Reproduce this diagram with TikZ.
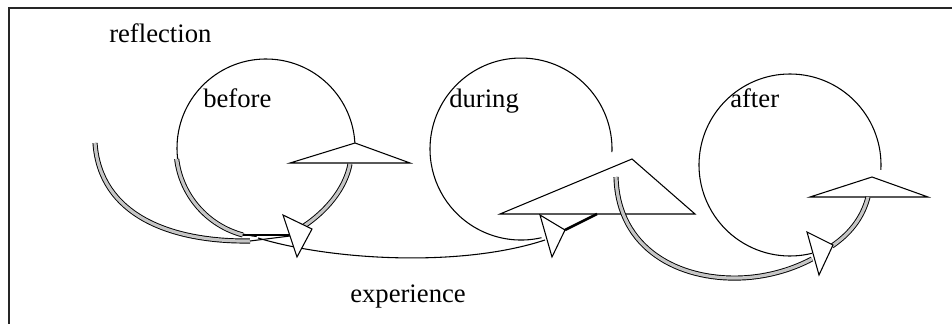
\documentclass[tikz,border=0pt]{standalone}
\usepackage{fontspec}
\setmainfont{Liberation Serif}
\begin{document}
\begin{tikzpicture}[x=0.75pt,y=-0.75pt,
  thinline/.style={draw=black, line width=0.8pt},
  dbl/.style={draw=black, line width=0.7pt, double=gray!45, double distance=2.4pt, line cap=butt},
  head/.style={draw=black, fill=white, line width=0.8pt, line join=miter},
  tri/.style={draw=black, fill=white, line width=0.8pt, line join=miter},
  lbl/.style={font=\fontsize{20}{24}\selectfont, inner sep=0pt, anchor=base west}]
\useasboundingbox (0,0) rectangle (952,324);
% frame (cut by the picture edges)
\draw[line width=1.4pt, draw=black!85] (9,340) -- (9,8) -- (970,8);

% ---------- before ----------
\draw[thinline] (266,148) ++(2:89) arc[start angle=2, end angle=-264, radius=89];
\draw[dbl] (266,148) ++(173:90) arc[start angle=173, end angle=105, radius=90];
\draw[line width=1.4pt] (266,148) ++(105:90) -- (290,235);
% outer big curve
\draw[dbl] (95,143) .. controls (100,215) and (170,242) .. (250,241);
\draw[thinline] (250,241) -- (290,236);
% experience curve
\draw[thinline] (258,238) .. controls (330,260) and (460,268) .. (545,240);
\draw[tri] (355,143) -- (410,163) -- (290,163) -- cycle;
\draw[dbl] (350,164) .. controls (345,190) and (325,212) .. (304,226);
\draw[head] (283,215) -- (312,229) -- (297,257) -- cycle;

% ---------- during ----------
\draw[thinline] (520,149) ++(2:92) arc[start angle=2, end angle=-283, radius=91];
\draw[tri] (632,159) -- (695,214) -- (500,214) -- cycle;
\draw[line width=2pt] (565,230) -- (597,214);
\draw[head] (540,215) -- (565,230) -- (552,257) -- cycle;
\draw[dbl] (616,177) .. controls (618,250) and (680,280) .. (740,278)
               .. controls (770,277) and (795,268) .. (812,259);

% ---------- after ----------
\draw[thinline] (790,165) ++(3:91) arc[start angle=3, end angle=-284, radius=91];
\draw[tri] (872,177) -- (928,197) -- (810,197) -- cycle;
\draw[dbl] (868,197) .. controls (862,220) and (848,235) .. (832,246);
\draw[head] (807,232) -- (833,245) -- (819,275) -- cycle;

% ---------- labels ----------
\node[lbl] (reflection) at (109,43) {reflection};
\node[lbl] (before) at (203,108) {before};
\node[lbl] (during) at (449,108) {during};
\node[lbl] (after) at (730,108) {after};
\node[lbl] (experience) at (350,302) {experience};
\end{tikzpicture}
\end{document}
